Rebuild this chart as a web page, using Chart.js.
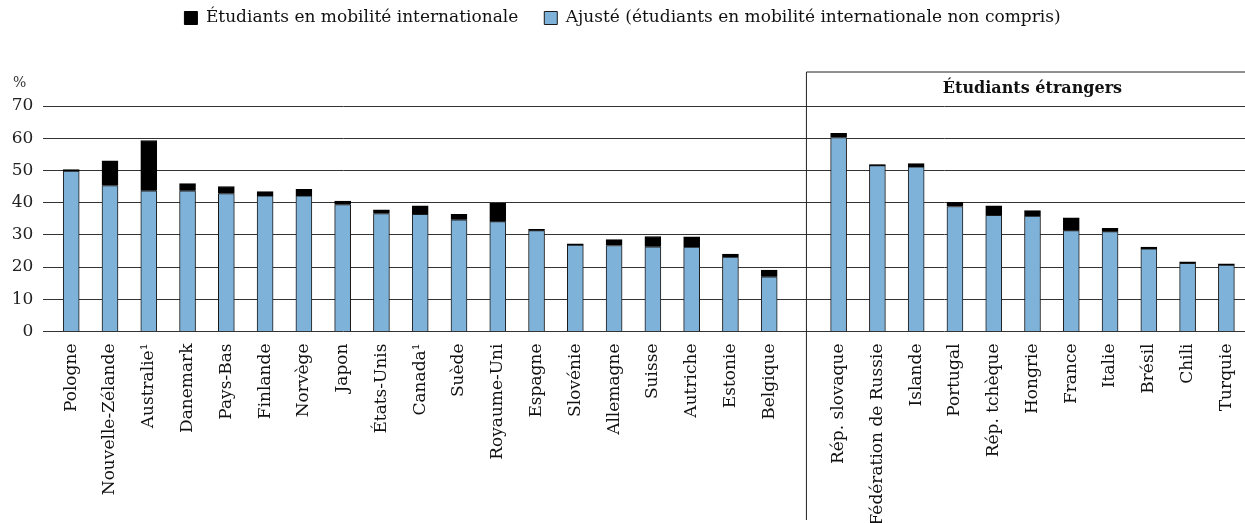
<!DOCTYPE html>
<html lang="fr">
<head>
  <meta charset="UTF-8" />
  <title>Étudiants en mobilité internationale</title>
  <script src="https://cdn.jsdelivr.net/npm/chart.js"></script>
  <style>
    body {
      margin: 0;
      background-color: #FFF;
    }

    .wrap {
      width: 1245px;
      height: 523px;
    }
  </style>
</head>
<body>

  <div class="wrap"><canvas id="chart"></canvas></div>

  <script>
    // pays, groupe de gauche (étudiants en mobilité internationale)
    const paysA = ['Pologne', 'Nouvelle-Zélande', 'Australie¹', 'Danemark', 'Pays-Bas', 'Finlande',
                   'Norvège', 'Japon', 'États-Unis', 'Canada¹', 'Suède', 'Royaume-Uni', 'Espagne',
                   'Slovénie', 'Allemagne', 'Suisse', 'Autriche', 'Estonie', 'Belgique'];
    const ajusteA = [49.8, 45.3, 43.7, 43.7, 42.8, 42.1, 42.1, 39.4, 36.6, 36.4,
                     34.7, 34.1, 31.3, 26.8, 26.7, 26.3, 26.2, 23.1, 17.0];
    const mobiliteA = [0.5, 7.7, 15.6, 2.2, 2.2, 1.3, 2.0, 1.1, 1.2, 2.6,
                       1.7, 5.7, 0.4, 0.4, 1.8, 3.2, 3.2, 0.9, 2.1];

    // pays, groupe de droite (étudiants étrangers)
    const paysB = ['Rép. slovaque', 'Fédération de Russie', 'Islande', 'Portugal', 'Rép. tchèque',
                   'Hongrie', 'France', 'Italie', 'Brésil', 'Chili', 'Turquie'];
    const ajusteB = [60.2, 51.5, 51.1, 38.8, 36.1, 35.8, 31.3, 31.0, 25.7, 21.2, 20.6];
    const mobiliteB = [1.3, 0.3, 1.0, 1.3, 2.9, 1.7, 4.0, 1.0, 0.5, 0.4, 0.4];

    const yTicks = [0, 10, 20, 30, 40, 50, 60, 70];
    const titreB = 'Étudiants étrangers';

    // position des catégories : le groupe de droite est décalé d'un écart
    const ECART = 0.79;
    const SEPARATION = 18.96;
    const posA = paysA.map((p, i) => i);
    const posB = paysB.map((p, i) => paysA.length + ECART + i);
    const positions = posA.concat(posB);
    const pays = paysA.concat(paysB);
    const ajuste = ajusteA.concat(ajusteB);
    const mobilite = mobiliteA.concat(mobiliteB);

    const serif = 'DejaVu Serif';

    const cadre = {
      id: 'cadre',
      afterDraw(chart) {
        const {ctx, chartArea, scales} = chart;
        const xs = scales.x.getPixelForValue(SEPARATION);
        const top = chartArea.top - 34;
        ctx.save();
        ctx.strokeStyle = '#222';
        ctx.lineWidth = 1;
        ctx.beginPath();
        ctx.moveTo(xs, chart.height - 3);
        ctx.lineTo(xs, top);
        ctx.lineTo(chartArea.right, top);
        ctx.stroke();

        ctx.fillStyle = '#111';
        ctx.font = 'bold 16px "' + serif + '"';
        ctx.textAlign = 'center';
        ctx.textBaseline = 'middle';
        const xc = (scales.x.getPixelForValue(posB[0]) + scales.x.getPixelForValue(posB[posB.length - 1])) / 2;
        ctx.fillText(titreB, xc, top + 17);

        ctx.font = '14px "' + serif + '"';
        ctx.textAlign = 'left';
        ctx.fillStyle = '#333';
        ctx.fillText('%', 13, chartArea.top - 23);
        ctx.restore();
      }
    };

    new Chart(document.getElementById('chart'), {
      type: 'bar',
      data: {
        datasets: [{
          label: 'Ajusté (étudiants en mobilité internationale non compris)',
          data: positions.map((x, i) => ({x: x, y: ajuste[i]})),
          backgroundColor: '#7FB2D9',
          borderColor: '#1a1a1a',
          borderWidth: 1,
          barThickness: 16,
        }, {
          label: 'Étudiants en mobilité internationale',
          data: positions.map((x, i) => ({x: x, y: mobilite[i]})),
          backgroundColor: '#000',
          borderColor: '#000',
          borderWidth: 1,
          barThickness: 16,
        }]
      },
      options: {
        responsive: true,
        maintainAspectRatio: false,
        animation: false,
        layout: {autoPadding: false, padding: {top: -16.5, left: 0, right: 0, bottom: 0}},
        plugins: {
          legend: {
            reverse: true,
            labels: {
              boxWidth: 13,
              boxHeight: 13,
              padding: 26,
              color: '#111',
              font: {family: serif, size: 17},
            }
          },
          title: {
            display: true,
            text: '',
            weight: 500,
            font: {size: 12, lineHeight: 1},
            padding: {top: 57.5, bottom: 0},
          },
          tooltip: {enabled: false},
        },
        scales: {
          x: {
            type: 'linear',
            stacked: true,
            offset: false,
            min: -0.72,
            max: 30.27,
            grid: {display: false, drawTicks: false},
            border: {display: false},
            afterBuildTicks: scale => {
              scale.ticks = positions.map(v => ({value: v}));
            },
            afterFit: scale => {
              scale.height = 191.5;
              scale.paddingLeft = 0;
              scale.paddingRight = 0;
            },
            ticks: {
              autoSkip: false,
              minRotation: 90,
              maxRotation: 90,
              padding: 12,
              color: '#111',
              font: {family: serif, size: 17},
              callback: (value, index) => pays[index],
            }
          },
          y: {
            stacked: true,
            min: 0,
            max: 70,
            grid: {color: '#333', lineWidth: 1, drawTicks: false},
            border: {display: false},
            afterBuildTicks: scale => {
              scale.ticks = yTicks.map(v => ({value: v}));
            },
            afterFit: scale => { scale.width = 43.3; },
            ticks: {
              padding: 10,
              color: '#222',
              font: {family: serif, size: 17},
            }
          }
        }
      },
      plugins: [cadre]
    });
  </script>
</body>
</html>
